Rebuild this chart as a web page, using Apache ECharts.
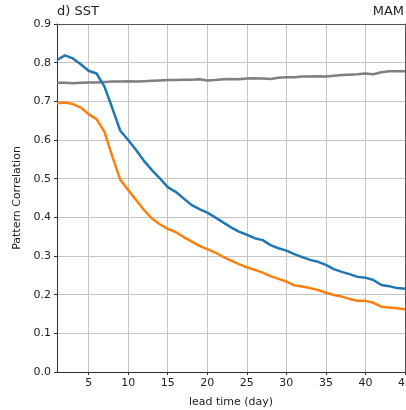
<!DOCTYPE html>
<html><head><meta charset="utf-8">
<script src="https://cdn.jsdelivr.net/npm/echarts@6/dist/echarts.min.js"></script>
<style>html,body{margin:0;padding:0;background:#fff}#c{width:406px;height:410px}</style>
</head><body><div id="c"></div>
<script>
const leadDays = Array.from({length:45},(_,i)=>i+1);
const blueSeries = [0.807,0.819,0.811,0.796,0.779,0.772,0.738,0.682,0.624,0.600,
0.574,0.546,0.522,0.501,0.478,0.466,0.449,0.432,0.421,0.412,
0.400,0.387,0.374,0.363,0.355,0.346,0.341,0.328,0.320,0.314,
0.305,0.297,0.290,0.285,0.277,0.266,0.259,0.253,0.246,0.244,
0.238,0.225,0.222,0.217,0.215];
const orangeSeries = [0.695,0.697,0.693,0.684,0.667,0.654,0.621,0.557,0.497,0.471,
0.445,0.419,0.397,0.382,0.370,0.362,0.349,0.338,0.326,0.318,
0.309,0.298,0.288,0.279,0.271,0.264,0.257,0.248,0.241,0.234,
0.224,0.221,0.217,0.212,0.205,0.199,0.195,0.189,0.184,0.184,
0.179,0.169,0.167,0.165,0.162];
const graySeries = [0.748,0.748,0.747,0.748,0.749,0.749,0.750,0.751,0.751,0.752,
0.751,0.752,0.753,0.754,0.755,0.755,0.756,0.756,0.757,0.754,
0.755,0.757,0.758,0.757,0.759,0.760,0.759,0.758,0.761,0.762,
0.762,0.764,0.764,0.765,0.764,0.766,0.768,0.769,0.770,0.772,
0.770,0.775,0.778,0.778,0.778];
const titleLeft = 'd) SST';
const titleRight = 'MAM';
const yName = 'Pattern Correlation';
const xName = 'lead time (day)';

const pair = arr => leadDays.map((d,i)=>[d,arr[i]]);
const font = 'DejaVu Sans';
const gridColor = '#c4c4c4';
const chart = echarts.init(document.getElementById('c'), null, {renderer:'canvas'});
chart.setOption({
  animation:false,
  backgroundColor:'#fff',
  textStyle:{fontFamily:font},
  title:[
    {text:titleLeft,left:57,top:5,padding:0,textStyle:{fontFamily:font,fontSize:13,fontWeight:'normal',color:'#222'}},
    {text:titleRight,right:2,top:5,padding:0,textStyle:{fontFamily:font,fontSize:13,fontWeight:'normal',color:'#222'}}
  ],
  grid:{left:57,right:1,top:24,bottom:38,show:false,containLabel:false,outerBoundsMode:'none'},
  xAxis:[{type:'value',min:1,max:45,splitNumber:9,minInterval:5,maxInterval:5,
    name:xName,nameLocation:'middle',nameGap:25,
    nameTextStyle:{fontFamily:font,fontSize:11,color:'#222'},
    axisLine:{show:true,lineStyle:{color:'#333',width:1}},
    axisTick:{show:true,length:3,lineStyle:{color:'#333'}},
    axisLabel:{showMinLabel:false,alignMaxLabel:'center',hideOverlap:false,fontFamily:font,fontSize:11,color:'#222',margin:6},
    splitLine:{show:true,lineStyle:{color:gridColor,width:1,type:'solid'}}
  },{type:'value',position:'top',min:1,max:45,
    axisLine:{show:true,onZero:false,lineStyle:{color:'#555',width:1}},
    axisTick:{show:false},axisLabel:{show:false},splitLine:{show:false}
  }],
  yAxis:[{type:'value',min:0,max:0.9,interval:0.1,
    name:yName,nameLocation:'middle',nameGap:29,nameRotate:90,
    nameTextStyle:{fontFamily:font,fontSize:11,color:'#222'},
    axisLine:{show:true,lineStyle:{color:'#333',width:1}},
    axisTick:{show:true,length:3,lineStyle:{color:'#333'}},
    axisLabel:{fontFamily:font,fontSize:11,color:'#222',margin:6,formatter:v=>v.toFixed(1)},
    splitLine:{show:true,lineStyle:{color:gridColor,width:1,type:'solid'}}
  },{type:'value',position:'right',min:0,max:0.9,
    axisLine:{show:true,onZero:false,lineStyle:{color:'#555',width:1}},
    axisTick:{show:false},axisLabel:{show:false},splitLine:{show:false}
  }],
  series:[
    {type:'line',data:pair(graySeries),showSymbol:false,lineStyle:{color:'#7f7f7f',width:2.5},z:3},
    {type:'line',data:pair(blueSeries),showSymbol:false,lineStyle:{color:'#1f77b4',width:2.5},z:4},
    {type:'line',data:pair(orangeSeries),showSymbol:false,lineStyle:{color:'#ff7f0e',width:2.5},z:5}
  ]
});
</script></body></html>
